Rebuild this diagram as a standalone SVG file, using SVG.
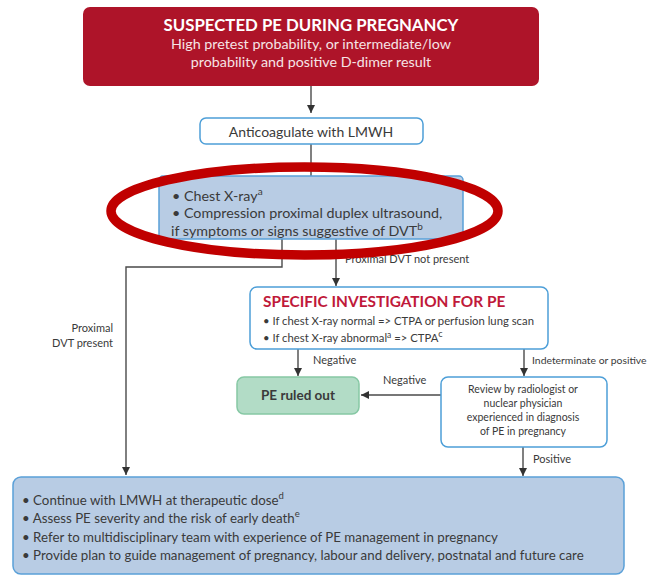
<svg xmlns="http://www.w3.org/2000/svg" width="651" height="577" viewBox="0 0 651 577">
<style>
  text { font-family: Lato, "Open Sans", "Liberation Sans", sans-serif; fill: #3a3a3a; }
  .white { fill: #f6e4e6; }
  .title { font-weight: bold; fill: #ffffff; font-size: 16.8px; }
  .sub { font-size: 14.3px; }
  .blueFill { fill: #b8cce4; stroke: #5aa0d8; stroke-width: 1.5; }
  .whiteBox { fill: #ffffff; stroke: #4d9fd8; stroke-width: 1.5; }
  .green { fill: #b2dcc6; stroke: #86c8a4; stroke-width: 1.5; }
  .conn { fill: none; stroke: #4a4a4a; stroke-width: 1.4; }
  .lbl { font-size: 11px; }
  .sup { font-size: 8.5px; }
</style>
<defs>
  <marker id="arr" markerUnits="userSpaceOnUse" markerWidth="8" markerHeight="8" refX="8" refY="4" orient="auto">
    <path d="M0,0 L8,4 L0,8 z" fill="#333333"/>
  </marker>
</defs>
<rect width="651" height="577" fill="#ffffff"/>

<g id="connectors">
  <path class="conn" d="M311,86 V113" marker-end="url(#arr)"/>
  <path class="conn" d="M311,144 V176"/>
  <path class="conn" d="M282,239 V267 H126 V475" marker-end="url(#arr)"/>
  <path class="conn" d="M336,239 V286" marker-end="url(#arr)"/>
  <path class="conn" d="M298,349 V376" marker-end="url(#arr)"/>
  <path class="conn" d="M524,349 V376" marker-end="url(#arr)"/>
  <path class="conn" d="M441,395 H361" marker-end="url(#arr)"/>
  <path class="conn" d="M523,447 V476" marker-end="url(#arr)"/>
  <text class="lbl" x="345" y="263">Proximal DVT not present</text>
  <text class="lbl" x="113" y="332" text-anchor="end">Proximal</text>
  <text class="lbl" x="113" y="347" text-anchor="end">DVT present</text>
  <text class="lbl" x="313" y="364">Negative</text>
  <text x="532" y="364" font-size="10.4">Indeterminate or positive</text>
  <text class="lbl" x="383" y="384">Negative</text>
  <text class="lbl" x="533" y="463">Positive</text>
</g>

<g id="suspected">
  <rect x="83" y="7" width="456" height="79" rx="7" fill="#ae1429"/>
  <text class="title" x="311" y="31" text-anchor="middle">SUSPECTED PE DURING PREGNANCY</text>
  <text class="sub white" x="311" y="49" text-anchor="middle">High pretest probability, or intermediate/low</text>
  <text class="sub white" x="311" y="67" text-anchor="middle">probability and positive D-dimer result</text>
</g>

<g id="anticoagulate">
  <rect class="whiteBox" x="200" y="118" width="223" height="26" rx="6"/>
  <text x="311" y="137" font-size="14" text-anchor="middle">Anticoagulate with LMWH</text>
</g>

<g id="tests">
  <rect class="blueFill" x="159" y="176" width="304" height="63" rx="4"/>
  <text x="172" y="201" font-size="14.3">• Chest X-ray<tspan font-size="10" dy="-6">a</tspan></text>
  <text x="172" y="218" font-size="14.3">• Compression proximal duplex ultrasound,</text>
  <text x="171" y="236" font-size="14.3">if symptoms or signs suggestive of DVT<tspan font-size="10" dy="-6">b</tspan></text>
</g>

<g id="specific">
  <rect class="whiteBox" x="250" y="287" width="298" height="62" rx="7"/>
  <text x="263" y="307" font-size="15.4" font-weight="bold" style="fill:#c0193a">SPECIFIC INVESTIGATION FOR PE</text>
  <text x="263" y="325" font-size="11.3">• If chest X-ray normal =&gt; CTPA or perfusion lung scan</text>
  <text x="263" y="342" font-size="11.3">• If chest X-ray abnormal<tspan class="sup" dy="-4">a</tspan><tspan dy="4"> =&gt; CTPA</tspan><tspan font-size="9" dy="-5">c</tspan></text>
</g>

<g id="ruled-out">
  <rect class="green" x="237" y="377" width="122" height="37" rx="7"/>
  <text x="298" y="400" font-size="13.5" font-weight="bold" text-anchor="middle">PE ruled out</text>
</g>

<g id="review">
  <rect class="whiteBox" x="441" y="377" width="166" height="70" rx="7"/>
  <text x="523" y="393" font-size="10.5" text-anchor="middle">Review by radiologist or</text>
  <text x="523" y="407" font-size="10.5" text-anchor="middle">nuclear physician</text>
  <text x="523" y="421" font-size="10.5" text-anchor="middle">experienced in diagnosis</text>
  <text x="523" y="435" font-size="10.5" text-anchor="middle">of PE in pregnancy</text>
</g>

<g id="management">
  <rect class="blueFill" x="13" y="477" width="611" height="97" rx="8"/>
  <text x="22" y="505" font-size="13.3">• Continue with LMWH at therapeutic dose<tspan font-size="9.5" dy="-6">d</tspan></text>
  <text x="22" y="523" font-size="13.3">• Assess PE severity and the risk of early death<tspan font-size="9.5" dy="-6">e</tspan></text>
  <text x="22" y="542" font-size="13.3">• Refer to multidisciplinary team with experience of PE management in pregnancy</text>
  <text x="22" y="560" font-size="13.3">• Provide plan to guide management of pregnancy, labour and delivery, postnatal and future care</text>
</g>

<g id="highlight">
  <ellipse cx="304.5" cy="211" rx="193.5" ry="44" fill="none" stroke="#c00000" stroke-width="9.5"/>
</g>
</svg>
